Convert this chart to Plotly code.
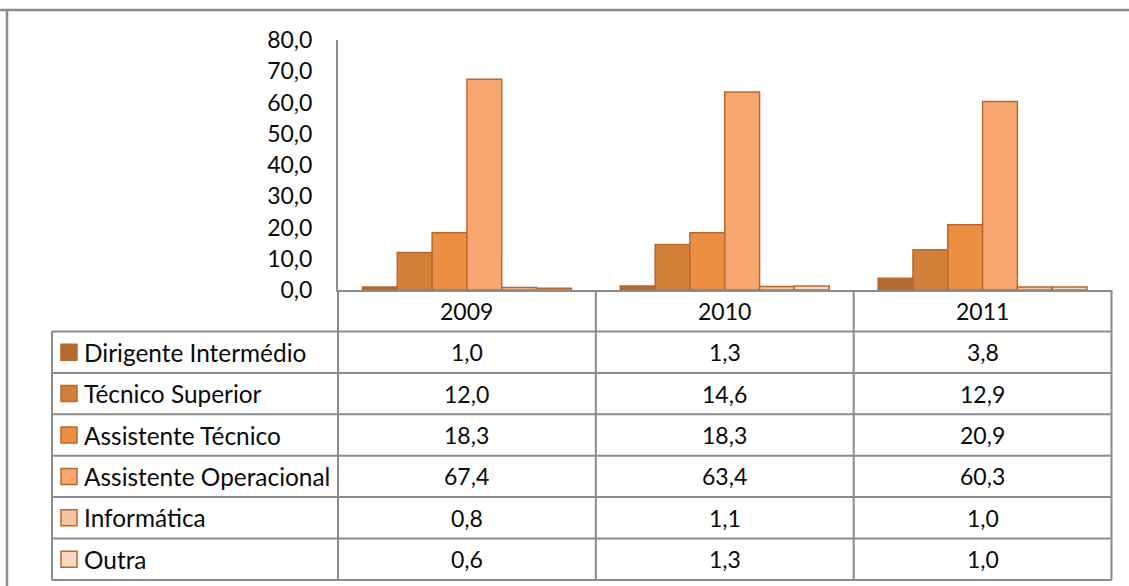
import plotly.graph_objects as go

W, H = 1129, 586

years = ['2009', '2010', '2011']
groups = ['Dirigente Intermédio', 'Técnico Superior', 'Assistente Técnico',
          'Assistente Operacional', 'Informática', 'Outra']
dirigente = [1.0, 1.3, 3.8]
tecnico_sup = [12.0, 14.6, 12.9]
assist_tec = [18.3, 18.3, 20.9]
assist_oper = [67.4, 63.4, 60.3]
informatica = [0.8, 1.1, 1.0]
outra = [0.6, 1.3, 1.0]
series = [dirigente, tecnico_sup, assist_tec, assist_oper, informatica, outra]
colors = ['#B36A30', '#D27F39', '#EC8F43', '#F6A66E', '#F8C3A1', '#FAD6C4']
edge = '#B8692F'
grid = '#8C8C8C'
FONT = 'Lato'

# layout in pixels of the 1129x586 picture
x_axis0, x_axis1 = 338, 1111.5
y_top, y_axis = 40, 290
tbl_left = 52
header_bot = 331.5
row_h = 41.4


def px(x):
    return x / W


def py(y):
    return 1 - y / H


fig = go.Figure()
for name, vals, c in zip(groups, series, colors):
    fig.add_trace(go.Bar(x=years, y=vals, name=name, marker_color=c,
                         marker_line_color=edge, marker_line_width=1.5,
                         showlegend=False))

shapes = []


def line(x0, y0, x1, y1, w=2):
    shapes.append(dict(type='line', xref='paper', yref='paper',
                       x0=px(x0), y0=py(y0), x1=px(x1), y1=py(y1),
                       line=dict(color=grid, width=w)))


# outer chart border
line(0, 10, W, 10, 2.5)
line(7, 10, 7, H, 2.5)

# table grid
n = len(groups)
col_w = (x_axis1 - x_axis0) / len(years)
line(x_axis0, y_axis, x_axis0, header_bot + n * row_h)
for k in range(1, len(years) + 1):
    xx = x_axis0 + k * col_w
    line(xx, y_axis, xx, header_bot + n * row_h)
line(tbl_left, header_bot, tbl_left, header_bot + n * row_h)
for r in range(n + 1):
    yy = header_bot + r * row_h
    line(tbl_left, yy, x_axis1, yy)

annotations = []
for k, yr in enumerate(years):
    annotations.append(dict(x=px(x_axis0 + (k + 0.5) * col_w), y=py((y_axis + header_bot) / 2),
                            xref='paper', yref='paper', text=yr, showarrow=False,
                            xanchor='center', yanchor='middle'))

for r, (name, vals, c) in enumerate(zip(groups, series, colors)):
    yc = header_bot + (r + 0.5) * row_h
    shapes.append(dict(type='rect', xref='paper', yref='paper',
                       x0=px(61), x1=px(77), y0=py(yc - 8), y1=py(yc + 8),
                       fillcolor=c, line=dict(color=edge, width=1.5)))
    annotations.append(dict(x=px(82), y=py(yc), xref='paper', yref='paper', text=name,
                            showarrow=False, xanchor='left', yanchor='middle',
                            font=dict(size=24.4)))
    for k, v in enumerate(vals):
        annotations.append(dict(x=px(x_axis0 + (k + 0.5) * col_w), y=py(yc),
                                xref='paper', yref='paper',
                                text=f'{v:.1f}'.replace('.', ','),
                                showarrow=False, xanchor='center', yanchor='middle'))

fig.update_layout(
    autosize=True,
    margin=dict(l=0, r=0, t=0, b=0, autoexpand=False),
    paper_bgcolor='white', plot_bgcolor='white',
    font=dict(family=FONT, size=23, color='#0a0a0a'),
    separators=',.',
    barmode='group', bargap=0.19, bargroupgap=0,
    shapes=shapes, annotations=annotations,
    xaxis=dict(domain=[px(x_axis0), px(x_axis1)], showticklabels=False,
               showline=True, linecolor=grid, linewidth=2, ticks='',
               showgrid=False, fixedrange=True),
    yaxis=dict(domain=[py(y_axis), py(y_top)], range=[0, 80], dtick=10,
               tickformat='.1f', showline=True, linecolor=grid, linewidth=2,
               ticks='', showgrid=False, zeroline=False,
               ticklabelstandoff=19, fixedrange=True),
)

# fill the browser window exactly, no page margin
fix_page = ("document.body.style.margin='0';"
            "document.body.style.overflow='hidden';"
            "var gd=document.getElementById('{plot_id}');"
            "Plotly.relayout(gd,{width:window.innerWidth,height:window.innerHeight});")

fig.write_html("out.html", default_width='100vw', default_height='100vh',
               config={'displayModeBar': False}, post_script=fix_page)
